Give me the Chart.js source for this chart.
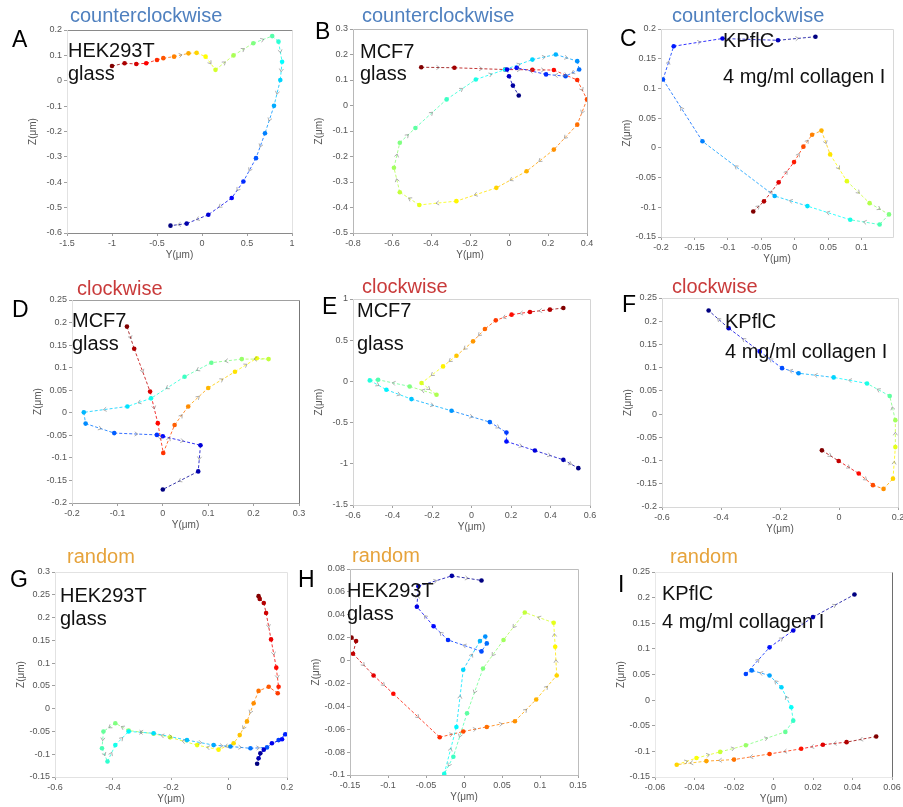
<!DOCTYPE html>
<html>
<head>
<meta charset="utf-8">
<title>Nuclear trajectories in the Y-Z plane</title>
<script src="https://cdn.jsdelivr.net/npm/chart.js@4/dist/chart.umd.min.js"></script>
<style>
  html, body { margin: 0; padding: 0; background: #fff; }
  #fig { position: relative; width: 903px; height: 807px; overflow: hidden;
         font-family: "Liberation Sans", Arial, Helvetica, sans-serif; }
  #fig canvas { position: absolute; left: 0; top: 0; }
  .t { position: absolute; white-space: nowrap; line-height: 20px; }
  .dir { font-size: 20px; }
  .let { font-size: 23px; color: #000; line-height: 23px; }
  .lab { font-size: 20px; color: #111; }
</style>
</head>
<body>
<div id="fig"></div>
<script>
// ---------- trajectory data: Y and Z positions (µm), in time order ----------
const aY = [-1.0, -0.86, -0.73, -0.62, -0.5, -0.43, -0.31, -0.15, -0.06, 0.04, 0.15, 0.35, 0.57, 0.78, 0.85, 0.89, 0.87, 0.8, 0.7, 0.6, 0.46, 0.33, 0.07, -0.17, -0.35];
const aZ = [0.058, 0.069, 0.066, 0.069, 0.082, 0.089, 0.095, 0.108, 0.11, 0.095, 0.043, 0.1, 0.148, 0.176, 0.154, 0.075, 0.003, -0.099, -0.207, -0.305, -0.397, -0.462, -0.528, -0.563, -0.571];

const bY = [-0.45, -0.28, -0.02, 0.12, 0.23, 0.35, 0.4, 0.35, 0.23, 0.09, -0.065, -0.27, -0.46, -0.56, -0.59, -0.56, -0.48, -0.32, -0.17, -0.02, 0.12, 0.24, 0.35, 0.36, 0.29, 0.19, 0.04, -0.01, 0.0, 0.02, 0.05];
const bZ = [0.15, 0.148, 0.141, 0.14, 0.139, 0.10, 0.024, -0.075, -0.173, -0.258, -0.323, -0.375, -0.39, -0.34, -0.244, -0.146, -0.088, 0.024, 0.102, 0.141, 0.18, 0.2, 0.174, 0.141, 0.115, 0.122, 0.148, 0.141, 0.115, 0.078, 0.039];

const cY = [-0.062, -0.046, -0.024, -0.001, 0.013, 0.026, 0.04, 0.053, 0.078, 0.112, 0.141, 0.127, 0.083, 0.019, -0.03, -0.138, -0.197, -0.181, -0.108, -0.025, 0.031];
const cZ = [-0.107, -0.09, -0.058, -0.024, 0.002, 0.022, 0.029, -0.011, -0.056, -0.093, -0.112, -0.129, -0.121, -0.098, -0.081, 0.011, 0.115, 0.171, 0.184, 0.181, 0.187];

const dY = [-0.079, -0.063, -0.028, -0.011, 0.001, 0.026, 0.056, 0.1, 0.159, 0.207, 0.233, 0.174, 0.107, 0.048, -0.026, -0.078, -0.174, -0.17, -0.107, -0.013, 0.0, 0.083, 0.078, 0.0];
const dZ = [0.191, 0.142, 0.047, -0.023, -0.089, -0.027, 0.014, 0.055, 0.091, 0.121, 0.119, 0.119, 0.111, 0.08, 0.032, 0.014, 0.001, -0.024, -0.045, -0.049, -0.052, -0.072, -0.13, -0.17];

const eY = [0.465, 0.397, 0.296, 0.203, 0.123, 0.068, 0.008, -0.076, -0.144, -0.253, -0.177, -0.313, -0.473, -0.515, -0.431, -0.304, -0.101, 0.093, 0.177, 0.177, 0.321, 0.465, 0.541];
const eZ = [0.891, 0.871, 0.843, 0.81, 0.741, 0.636, 0.486, 0.312, 0.182, -0.02, -0.162, -0.061, 0.02, 0.012, -0.101, -0.215, -0.357, -0.494, -0.62, -0.729, -0.839, -0.952, -1.053];

const fY = [-0.058, -0.001, 0.067, 0.115, 0.151, 0.183, 0.191, 0.191, 0.172, 0.095, -0.018, -0.137, -0.193, -0.269, -0.374, -0.442];
const fZ = [-0.078, -0.101, -0.128, -0.153, -0.161, -0.139, -0.071, -0.013, 0.039, 0.066, 0.079, 0.088, 0.099, 0.135, 0.185, 0.223];

const gY = [0.102, 0.106, 0.12, 0.128, 0.145, 0.163, 0.171, 0.168, 0.137, 0.102, 0.085, 0.062, 0.037, 0.016, -0.036, -0.11, -0.203, -0.26, -0.346, -0.392, -0.433, -0.438, -0.419, -0.392, -0.346, -0.26, -0.145, -0.053, 0.005, 0.074, 0.131, 0.171, 0.194, 0.183, 0.148, 0.12, 0.102, 0.108, 0.097];
const gZ = [0.247, 0.241, 0.232, 0.21, 0.152, 0.09, 0.048, 0.034, 0.048, 0.039, 0.012, -0.028, -0.058, -0.076, -0.09, -0.08, -0.063, -0.055, -0.048, -0.032, -0.05, -0.087, -0.116, -0.08, -0.05, -0.054, -0.069, -0.08, -0.083, -0.087, -0.085, -0.069, -0.056, -0.067, -0.076, -0.09, -0.109, -0.098, -0.121];

const hY = [-0.148, -0.142, -0.146, -0.119, -0.093, -0.032, -0.001, 0.03, 0.067, 0.095, 0.122, 0.12, 0.118, 0.08, 0.052, 0.025, 0.004, -0.014, -0.026, -0.01, -0.001, 0.021, 0.028, 0.03, 0.023, -0.021, -0.04, -0.062, -0.06, -0.016, 0.023];
const hZ = [0.02, 0.017, 0.006, -0.013, -0.029, -0.067, -0.062, -0.058, -0.053, -0.034, -0.013, 0.012, 0.033, 0.042, 0.018, -0.007, -0.046, -0.084, -0.099, -0.058, -0.008, 0.017, 0.021, 0.015, 0.008, 0.018, 0.03, 0.047, 0.065, 0.074, 0.07];

const iY = [0.052, 0.037, 0.025, 0.014, -0.002, -0.02, -0.034, -0.049, -0.039, -0.027, -0.014, 0.006, 0.01, 0.009, 0.004, -0.002, -0.011, -0.014, -0.002, 0.01, 0.02, 0.041];
const iZ = [-0.071, -0.082, -0.087, -0.095, -0.105, -0.116, -0.119, -0.126, -0.113, -0.101, -0.088, -0.062, -0.04, -0.014, 0.025, 0.048, 0.058, 0.051, 0.103, 0.136, 0.162, 0.206];

// ---------- axis limits and tick values ----------
const aYLim = [-1.5, 1],     aYTicks = [-1.5, -1, -0.5, 0, 0.5, 1];
const aZLim = [-0.6, 0.2],   aZTicks = [-0.6, -0.5, -0.4, -0.3, -0.2, -0.1, 0, 0.1, 0.2];
const bYLim = [-0.8, 0.4],   bYTicks = [-0.8, -0.6, -0.4, -0.2, 0, 0.2, 0.4];
const bZLim = [-0.5, 0.3],   bZTicks = [-0.5, -0.4, -0.3, -0.2, -0.1, 0, 0.1, 0.2, 0.3];
const cYLim = [-0.2, 0.147], cYTicks = [-0.2, -0.15, -0.1, -0.05, 0, 0.05, 0.1];
const cZLim = [-0.15, 0.2],  cZTicks = [-0.15, -0.1, -0.05, 0, 0.05, 0.1, 0.15, 0.2];
const dYLim = [-0.2, 0.3],   dYTicks = [-0.2, -0.1, 0, 0.1, 0.2, 0.3];
const dZLim = [-0.2, 0.25],  dZTicks = [-0.2, -0.15, -0.1, -0.05, 0, 0.05, 0.1, 0.15, 0.2, 0.25];
const eYLim = [-0.6, 0.6],   eYTicks = [-0.6, -0.4, -0.2, 0, 0.2, 0.4, 0.6];
const eZLim = [-1.5, 1],     eZTicks = [-1.5, -1, -0.5, 0, 0.5, 1];
const fYLim = [-0.6, 0.2],   fYTicks = [-0.6, -0.4, -0.2, 0, 0.2];
const fZLim = [-0.2, 0.25],  fZTicks = [-0.2, -0.15, -0.1, -0.05, 0, 0.05, 0.1, 0.15, 0.2, 0.25];
const gYLim = [-0.6, 0.2],   gYTicks = [-0.6, -0.4, -0.2, 0, 0.2];
const gZLim = [-0.15, 0.3],  gZTicks = [-0.15, -0.1, -0.05, 0, 0.05, 0.1, 0.15, 0.2, 0.25, 0.3];
const hYLim = [-0.15, 0.15], hYTicks = [-0.15, -0.1, -0.05, 0, 0.05, 0.1, 0.15];
const hZLim = [-0.1, 0.08],  hZTicks = [-0.1, -0.08, -0.06, -0.04, -0.02, 0, 0.02, 0.04, 0.06, 0.08];
const iYLim = [-0.06, 0.06], iYTicks = [-0.06, -0.04, -0.02, 0, 0.02, 0.04, 0.06];
const iZLim = [-0.15, 0.25], iZTicks = [-0.15, -0.1, -0.05, 0, 0.05, 0.1, 0.15, 0.2, 0.25];

// ---------- panel text ----------
const panelLetters = ['A', 'B', 'C', 'D', 'E', 'F', 'G', 'H', 'I'];
const directions   = ['counterclockwise', 'counterclockwise', 'counterclockwise',
                      'clockwise', 'clockwise', 'clockwise', 'random', 'random', 'random'];
const cellLines    = ['HEK293T', 'MCF7', 'KPflC', 'MCF7', 'MCF7', 'KPflC', 'HEK293T', 'HEK293T', 'KPflC'];
const substrates   = ['glass', 'glass', '4 mg/ml collagen I', 'glass', 'glass', '4 mg/ml collagen I',
                      'glass', 'glass', '4 mg/ml collagen I'];
const directionColors = { counterclockwise: '#4f80bf', clockwise: '#c93b3b', random: '#e6a33b' };

// ---------- layout (page pixels) ----------
// plot rectangle [left, top, right, bottom]
const plotRects = [
  [67, 30, 292, 233], [353, 29, 587, 233], [661, 29, 893, 237],
  [72, 300, 299, 503], [353, 299, 590, 505], [662, 298, 898, 507],
  [55, 572, 287, 777], [350, 569, 578, 775], [655, 572, 892, 777]
];
// frame colours [top, right, bottom, left]
const frameColors = [
  ['#8a8a8a', '#e2e2e2', '#8a8a8a', '#e2e2e2'],
  ['#b8b8b8', '#b8b8b8', '#b8b8b8', '#b8b8b8'],
  ['#d8d8d8', '#d8d8d8', '#d8d8d8', '#d8d8d8'],
  ['#a0a0a0', '#777777', '#a0a0a0', '#e0e0e0'],
  ['#d4d4d4', '#d4d4d4', '#d4d4d4', '#d4d4d4'],
  ['#d8d8d8', '#d8d8d8', '#d8d8d8', '#d8d8d8'],
  ['#e2e2e2', '#e2e2e2', '#e2e2e2', '#e2e2e2'],
  ['#bdbdbd', '#bdbdbd', '#bdbdbd', '#bdbdbd'],
  ['#e8e8e8', '#6e6e6e', '#e8e8e8', '#e8e8e8']
];
// text anchors: [x, baseline]
const titlePos  = [[70, 22], [362, 22], [672, 22], [77, 295], [362, 293], [672, 293], [67, 563], [352, 562], [670, 563]];
const letterPos = [[12, 48], [315, 40], [620, 47], [12, 318], [322, 315], [622, 313], [10, 588], [298, 588], [618, 593]];
const labelPos  = [[68, 57, 80], [360, 58, 80], [723, 47, 83], [72, 327, 350], [357, 317, 350],
                   [725, 328, 358], [60, 602, 625], [347, 597, 620], [662, 600, 628]];

const series = [
  [aY, aZ, aYLim, aZLim, aYTicks, aZTicks],
  [bY, bZ, bYLim, bZLim, bYTicks, bZTicks],
  [cY, cZ, cYLim, cZLim, cYTicks, cZTicks],
  [dY, dZ, dYLim, dZLim, dYTicks, dZTicks],
  [eY, eZ, eYLim, eZLim, eYTicks, eZTicks],
  [fY, fZ, fYLim, fZLim, fYTicks, fZTicks],
  [gY, gZ, gYLim, gZLim, gYTicks, gZTicks],
  [hY, hZ, hYLim, hZLim, hYTicks, hZTicks],
  [iY, iZ, iYLim, iZLim, iYTicks, iZTicks]
];

const W = 903, H = 807;
const Y_AXIS_W = 40, X_AXIS_H = 28;
const FONT = '"Liberation Sans", Arial, sans-serif';

// jet colour map, t in [0,1]
function jet(t, a) {
  const c = v => Math.round(255 * Math.max(0, Math.min(1, v)));
  const r = c(Math.min(4 * t - 1.5, -4 * t + 4.5));
  const g = c(Math.min(4 * t - 0.5, -4 * t + 3.5));
  const b = c(Math.min(4 * t + 0.5, -4 * t + 2.5));
  return a === undefined ? `rgb(${r},${g},${b})` : `rgba(${r},${g},${b},${a})`;
}
const fmt = v => String(+Number(v).toFixed(4));

// frame around the plotting area
const framePlugin = {
  id: 'frame',
  afterDraw(chart, args, opts) {
    const { left, top, right, bottom } = chart.chartArea;
    const ctx = chart.ctx;
    const cols = opts.colors;
    const sides = [[left, top, right, top], [right, top, right, bottom],
                   [left, bottom, right, bottom], [left, top, left, bottom]];
    ctx.save();
    ctx.lineWidth = 1;
    sides.forEach((s, k) => {
      ctx.strokeStyle = cols[k];
      ctx.beginPath();
      ctx.moveTo(Math.round(s[0]) + 0.5, Math.round(s[1]) + 0.5);
      ctx.lineTo(Math.round(s[2]) + 0.5, Math.round(s[3]) + 0.5);
      ctx.stroke();
    });
    ctx.restore();
  }
};

// small direction chevrons half way along each step
const arrowPlugin = {
  id: 'stepArrows',
  afterDatasetsDraw(chart) {
    const meta = chart.getDatasetMeta(0);
    const pts = meta.data;
    const ctx = chart.ctx;
    const area = chart.chartArea;
    ctx.save();
    ctx.beginPath();
    ctx.rect(area.left, area.top, area.right - area.left, area.bottom - area.top);
    ctx.clip();
    ctx.strokeStyle = 'rgba(120,120,120,0.75)';
    ctx.lineWidth = 0.8;
    for (let k = 0; k < pts.length - 1; k++) {
      const p = pts[k], q = pts[k + 1];
      const dx = q.x - p.x, dy = q.y - p.y;
      const len = Math.hypot(dx, dy);
      if (len < 14) continue;
      const ux = dx / len, uy = dy / len;
      const mx = p.x + dx * 0.55, my = p.y + dy * 0.55;
      const s = 3;
      ctx.beginPath();
      ctx.moveTo(mx - ux * s - uy * s * 0.7, my - uy * s + ux * s * 0.7);
      ctx.lineTo(mx, my);
      ctx.lineTo(mx - ux * s + uy * s * 0.7, my - uy * s - ux * s * 0.7);
      ctx.stroke();
    }
    ctx.restore();
  }
};

const fig = document.getElementById('fig');

series.forEach((s, idx) => {
  const [ys, zs, yLim, zLim, yTicks, zTicks] = s;
  const n = ys.length;
  const pts = ys.map((y, k) => ({ x: y, y: zs[k] }));
  const colors = pts.map((p, k) => jet(1 - k / (n - 1)));
  const lineColors = pts.map((p, k) => jet(1 - (k + 0.5) / (n - 1), 0.8));
  const r = plotRects[idx];

  const canvas = document.createElement('canvas');
  canvas.width = W; canvas.height = H;
  canvas.style.width = W + 'px'; canvas.style.height = H + 'px';
  fig.appendChild(canvas);

  new Chart(canvas, {
    type: 'scatter',
    data: {
      datasets: [{
        data: pts,
        showLine: true,
        borderWidth: 1,
        borderDash: [3, 2],
        segment: { borderColor: c => lineColors[c.p0DataIndex] },
        pointRadius: 2.3,
        pointBorderWidth: 0,
        pointBackgroundColor: colors,
        pointBorderColor: colors
      }]
    },
    options: {
      responsive: false,
      animation: false,
      events: [],
      layout: {
        padding: { left: r[0] - Y_AXIS_W, top: r[1], right: W - r[2], bottom: H - r[3] - X_AXIS_H }
      },
      plugins: {
        legend: { display: false },
        tooltip: { enabled: false },
        frame: { colors: frameColors[idx] }
      },
      scales: {
        x: {
          type: 'linear', min: yLim[0], max: yLim[1],
          border: { display: false },
          grid: { drawOnChartArea: false, drawTicks: true, tickLength: 3, color: '#a0a0a0' },
          ticks: { autoSkip: false, maxRotation: 0, padding: 2, color: '#555',
                   font: { family: FONT, size: 9 }, callback: v => fmt(v) },
          title: { display: true, text: 'Y(μm)', color: '#555', font: { family: FONT, size: 10 },
                   padding: { top: 0, bottom: 0 } },
          afterBuildTicks: sc => { sc.ticks = yTicks.map(v => ({ value: v })); },
          afterFit: sc => { sc.height = X_AXIS_H; sc.paddingLeft = 0; sc.paddingRight = 0; }
        },
        y: {
          type: 'linear', min: zLim[0], max: zLim[1],
          border: { display: false },
          grid: { drawOnChartArea: false, drawTicks: true, tickLength: 3, color: '#a0a0a0' },
          ticks: { autoSkip: false, padding: 2, color: '#555',
                   font: { family: FONT, size: 9 }, callback: v => fmt(v) },
          title: { display: true, text: 'Z(μm)', color: '#555', font: { family: FONT, size: 10 },
                   padding: { top: 0, bottom: 0 } },
          afterBuildTicks: sc => { sc.ticks = zTicks.map(v => ({ value: v })); },
          afterFit: sc => { sc.width = Y_AXIS_W; sc.paddingTop = 0; sc.paddingBottom = 0; }
        }
      }
    },
    plugins: [framePlugin, arrowPlugin]
  });

  // panel annotations
  const addText = (cls, text, x, baseline, size, color) => {
    const d = document.createElement('div');
    d.className = 't ' + cls;
    d.textContent = text;
    d.style.left = x + 'px';
    d.style.top = (baseline - size * 0.85) + 'px';
    if (color) d.style.color = color;
    fig.appendChild(d);
  };
  addText('dir', directions[idx], titlePos[idx][0], titlePos[idx][1], 20, directionColors[directions[idx]]);
  addText('let', panelLetters[idx], letterPos[idx][0], letterPos[idx][1], 23);
  addText('lab', cellLines[idx], labelPos[idx][0], labelPos[idx][1], 20);
  addText('lab', substrates[idx], labelPos[idx][0], labelPos[idx][2], 20);
});
</script>
</body>
</html>
